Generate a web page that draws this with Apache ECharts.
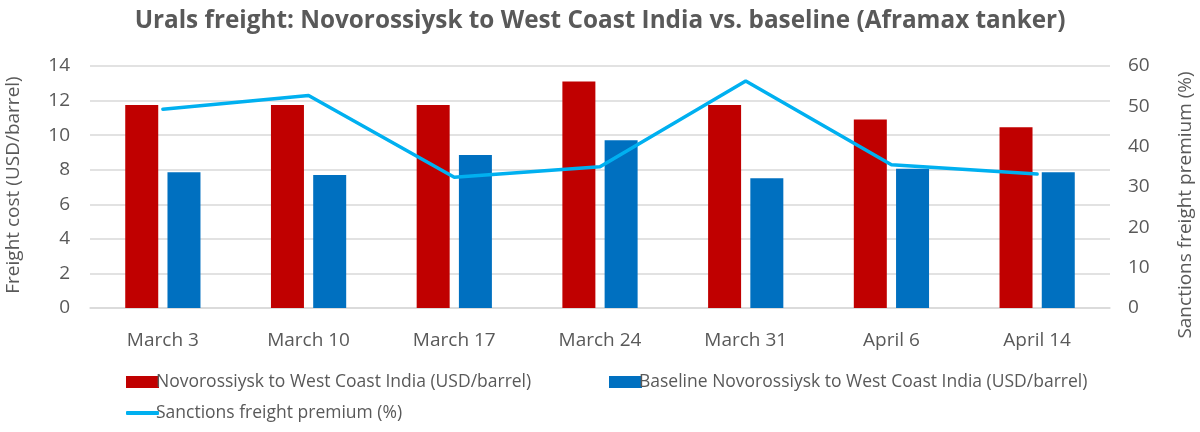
<!DOCTYPE html>
<html><head><meta charset="utf-8">
<script src="https://cdn.jsdelivr.net/npm/echarts@6/dist/echarts.min.js"></script>
<style>html,body{margin:0;padding:0;background:#fff}#c{width:1200px;height:432px}</style>
</head><body><div id="c"></div>
<script>
var categories = ["March 3","March 10","March 17","March 24","March 31","April 6","April 14"];
var novorossiyskWCI = [11.75, 11.75, 11.75, 13.1, 11.75, 10.9, 10.45];
var baselineWCI = [7.85, 7.7, 8.85, 9.7, 7.5, 8.05, 7.85];
var premiumPct = [49.3, 52.7, 32.4, 35.0, 56.3, 35.5, 33.2];
var leftTicks = [0, 14, 2];
var rightTicks = [0, 60, 10];

var FONT = "Open Sans";
var GRAY = "#595959";
var NOV = "Novorossiysk to West Coast India (USD/barrel)";
var BASE = "Baseline Novorossiysk to West Coast India (USD/barrel)";
var PREM = "Sanctions freight premium (%)";
var chart = echarts.init(document.getElementById('c'));
var legendText = {fontFamily: FONT, fontSize: 17.5, color: GRAY, padding: [0,0,0,-8]};
chart.setOption({
  animation: false,
  textStyle: {fontFamily: FONT},
  title: {
    text: "Urals freight: Novorossiysk to West Coast India vs. baseline (Aframax tanker)",
    left: 'center', top: 4,
    textStyle: {fontFamily: FONT, fontSize: 24.3, fontWeight: 'bold', color: GRAY}
  },
  grid: {left: 90, right: 90, top: 66, bottom: 124},
  legend: [
    {data: [NOV], left: 121, top: 368, itemWidth: 33, itemHeight: 12, icon: 'rect', textStyle: legendText},
    {data: [BASE], left: 604, top: 368, itemWidth: 33, itemHeight: 12, icon: 'rect', textStyle: legendText},
    {data: [PREM], left: 121, top: 399, itemWidth: 33, itemHeight: 4, icon: 'roundRect', textStyle: legendText}
  ],
  xAxis: {
    type: 'category', data: categories, boundaryGap: true,
    axisLine: {lineStyle: {color: '#D9D9D9', width: 1.5}},
    axisTick: {show: false},
    axisLabel: {fontFamily: FONT, fontSize: 19, color: GRAY, margin: 23}
  },
  yAxis: [
    {type: 'value', min: leftTicks[0], max: leftTicks[1], interval: leftTicks[2],
     axisLine: {show: false}, axisTick: {show: false},
     axisLabel: {fontFamily: FONT, fontSize: 19, color: GRAY, margin: 20},
     splitLine: {lineStyle: {color: '#D9D9D9', width: 1.5}}},
    {type: 'value', min: rightTicks[0], max: rightTicks[1], interval: rightTicks[2],
     axisLine: {show: false}, axisTick: {show: false},
     axisLabel: {fontFamily: FONT, fontSize: 19, color: GRAY, margin: 18},
     splitLine: {show: false}}
  ],
  graphic: [
    {type: 'text', rotation: Math.PI/2, position: [14, 185],
     style: {text: "Freight cost (USD/barrel)", fontFamily: FONT, fontSize: 19, fill: GRAY,
             textAlign: 'center', textVerticalAlign: 'middle'}},
    {type: 'text', rotation: Math.PI/2, position: [1186, 205],
     style: {text: "Sanctions freight premium (%)", fontFamily: FONT, fontSize: 19, fill: GRAY,
             textAlign: 'center', textVerticalAlign: 'middle'}}
  ],
  series: [
    {name: NOV, type: 'bar', data: novorossiyskWCI, barWidth: 33, barGap: '28%',
     itemStyle: {color: '#C00000'}},
    {name: BASE, type: 'bar', data: baselineWCI, barWidth: 33, barGap: '28%',
     itemStyle: {color: '#0070C0'}},
    {name: PREM, type: 'line', yAxisIndex: 1, data: premiumPct, symbol: 'none',
     lineStyle: {color: '#00B0F0', width: 3.5, cap: 'round'}, itemStyle: {color: '#00B0F0'}}
  ]
});
</script></body></html>
